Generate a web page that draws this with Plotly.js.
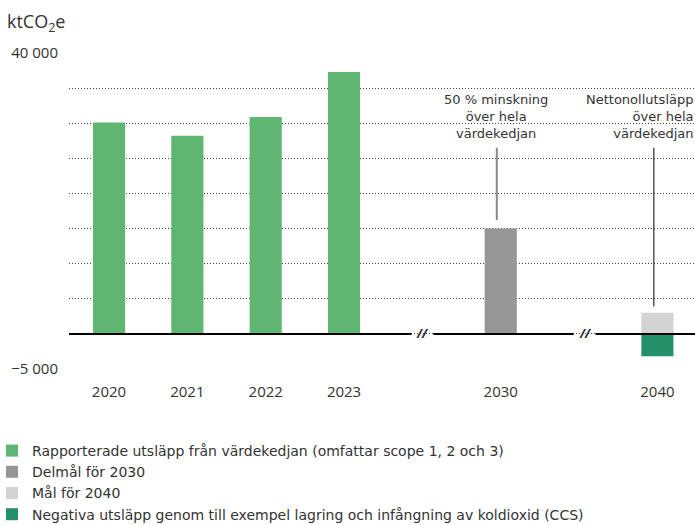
<!DOCTYPE html>
<html>
<head>
<meta charset="utf-8">
<script src="https://cdn.plot.ly/plotly-3.0.1.min.js"></script>
<style>html,body{margin:0;padding:0;background:#fff;}#chart{width:695px;height:525px;}</style>
</head>
<body>
<div id="chart"></div>
<script>
// ---- data ----
const categories = ["2020", "2021", "2022", "2023", "2030", "2040"];
const categoryPos = [0, 1, 2, 3, 5, 7];
const reportedYearsPos = [0, 1, 2, 3];
const reportedValues = [30100, 28200, 30900, 37300];
const target2030Pos = [5];
const target2030Values = [15000];
const target2040Pos = [7];
const target2040Values = [3000];
const negativePos = [7];
const negativeValues = [-3200];
const seriesNames = [
  "Rapporterade utsläpp från värdekedjan (omfattar scope 1, 2 och 3)",
  "Delmål för 2030",
  "Mål för 2040",
  "Negativa utsläpp genom till exempel lagring och infångning av koldioxid (CCS)"
];
const yTickVals = [-5000, 0, 5000, 10000, 15000, 20000, 25000, 30000, 35000, 40000];
const yTickText = ["−5 000", "", "", "", "", "", "", "", "", "40 000"];
const breakPos = [4, 6.07];
const note2030Lines = ["50 % minskning", "över hela", "värdekedjan"];
const note2040Lines = ["Nettonollutsläpp", "över hela", "värdekedjan"];
const unitLabel = "ktCO<sub>2</sub>e";

const colors = ["#5fb672", "#969696", "#d3d3d3", "#23906a"];
const textColor = "#333333";
const FONT = "Open Sans, sans-serif";
const NOTEFONT = "DejaVu Sans, sans-serif";
const barW = 0.41;

const traces = [
  {x: reportedYearsPos, y: reportedValues, name: seriesNames[0]},
  {x: target2030Pos, y: target2030Values, name: seriesNames[1]},
  {x: target2040Pos, y: target2040Values, name: seriesNames[2]},
  {x: negativePos, y: negativeValues, name: seriesNames[3]}
].map((t, i) => Object.assign(t, {
  type: "bar", width: barW, marker: {color: colors[i], line: {width: 0}},
  legendgroup: "g" + i, hoverinfo: "skip"
}));

const xMin = -0.511, xMax = 7.48;
const gapHalf = 0.14;
const noteY = 26500;
// zero line segments with gaps at the break marks
const segs = [];
let start = xMin;
breakPos.forEach(b => { segs.push([start, b - gapHalf]); start = b + gapHalf; });
segs.push([start, xMax]);
const shapes = segs.map(s => ({
  type: "line", xref: "x", yref: "y", x0: s[0], x1: s[1], y0: 0, y1: 0,
  line: {color: "#000", width: 2}, layer: "above"
}));
shapes.push({type: "line", xref: "x", yref: "y", x0: target2030Pos[0] - 0.05, x1: target2030Pos[0] - 0.05,
  y0: target2030Values[0] + 1200, y1: noteY, line: {color: "#8a8a8a", width: 2}});
shapes.push({type: "line", xref: "x", yref: "y", x0: target2040Pos[0] - 0.045, x1: target2040Pos[0] - 0.045,
  y0: target2040Values[0] + 900, y1: noteY, line: {color: "#000", width: 1}});

const annotations = breakPos.map(b => ({
  x: b, y: 0, xref: "x", yref: "y", text: "<b><i>//</i></b>", showarrow: false,
  font: {family: FONT, size: 12, color: "#222"}, xanchor: "center", yanchor: "middle"
}));
annotations.push({
  x: target2030Pos[0], y: noteY, xref: "x", yref: "y", text: note2030Lines.join("<br>"), showarrow: false,
  xanchor: "center", yanchor: "middle", align: "center", xshift: -5, yshift: 31,
  font: {family: NOTEFONT, size: 13, color: textColor}
});
annotations.push({
  x: 1, y: noteY, xref: "paper", yref: "y", text: note2040Lines.join("<br>"), showarrow: false,
  xanchor: "right", yanchor: "middle", align: "right", xshift: 0, yshift: 31,
  font: {family: NOTEFONT, size: 13, color: textColor}
});

const layout = {
  width: 695, height: 525,
  margin: {l: 69, r: 0, t: 53, b: 156, autoexpand: false},
  paper_bgcolor: "#fff", plot_bgcolor: "#fff",
  font: {family: FONT, color: textColor, size: 14},
  barmode: "relative",
  bargap: 0.5,
  title: {text: unitLabel, xref: "container", yref: "container", x: 0.01, xanchor: "left",
    y: 1 - 22 / 525, yanchor: "middle", font: {family: FONT, size: 18, color: textColor}},
  xaxis: {range: [xMin, xMax], tickvals: categoryPos, ticktext: categories, showgrid: false,
    zeroline: false, showline: false, ticks: "outside", ticklen: 9, tickcolor: "rgba(0,0,0,0)",
    tickfont: {family: FONT, size: 15, color: textColor}, fixedrange: true},
  yaxis: {range: [-5000, 40000], tickvals: yTickVals, ticktext: yTickText, showgrid: true,
    gridcolor: "#444", gridwidth: 1, griddash: "1px,2px", zeroline: false, showline: false,
    ticks: "outside", ticklen: 7, tickcolor: "rgba(0,0,0,0)",
    tickfont: {family: FONT, size: 15, color: textColor}, fixedrange: true},
  showlegend: true,
  legend: {orientation: "v", x: -77 / 626, xanchor: "left", y: -66 / 316, yanchor: "top",
    traceorder: "grouped", tracegroupgap: 0, itemclick: false, itemdoubleclick: false,
    font: {family: "DejaVu Sans, sans-serif", size: 14, color: textColor}, bgcolor: "rgba(0,0,0,0)"},
  shapes: shapes,
  annotations: annotations
};

Plotly.newPlot("chart", traces, layout, {displayModeBar: false, staticPlot: true});
</script>
</body>
</html>
